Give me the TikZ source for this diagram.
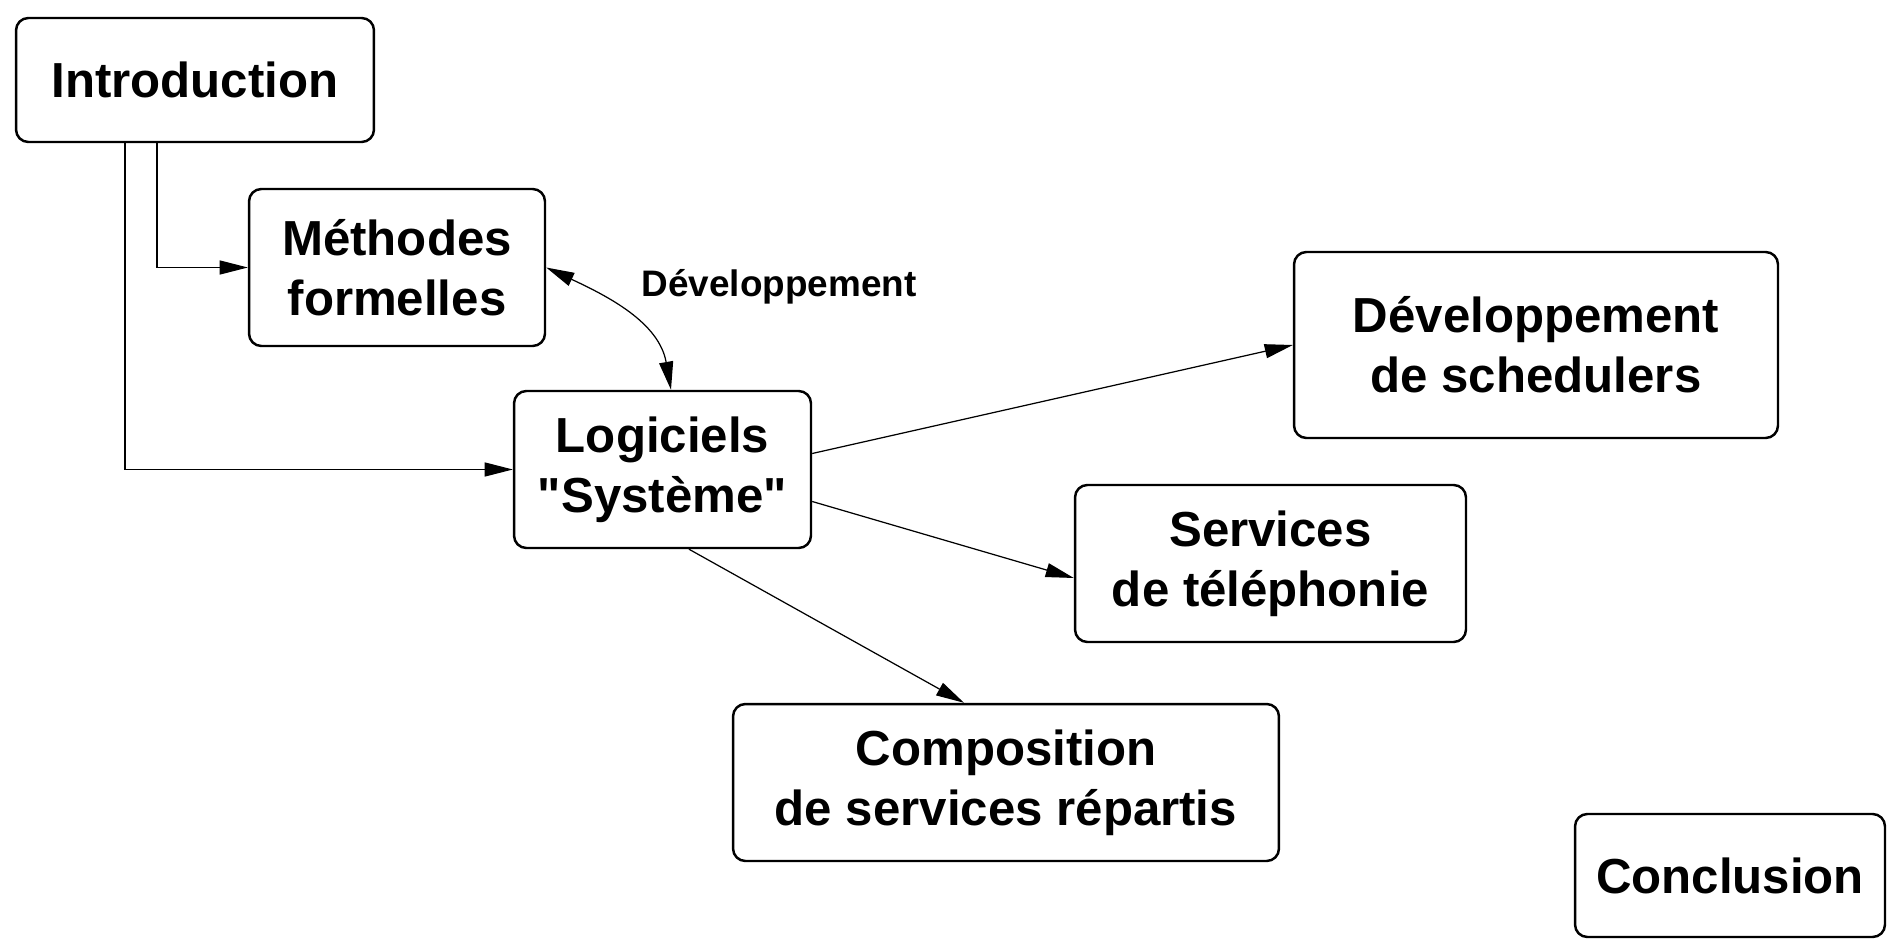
\documentclass[tikz,border=0pt]{standalone}
\usepackage{fontspec}
\setmainfont{Liberation Sans}
\usetikzlibrary{arrows.meta}

\begin{document}
\begin{tikzpicture}[x=0.02cm, y=-0.02cm, >={Triangle[length=16pt,width=8pt]}]
        \tikzstyle{box}  = [rectangle, draw, rounded corners=7pt, line width=1.4pt, align=center, inner sep=0pt, font=\fontsize{28}{34}\selectfont\bfseries]
        \tikzstyle{link} = [->, line width=0.7pt]
        \useasboundingbox (0,0) rectangle (1888,952);

        % Boxes
        \node[box, minimum width=7.16cm, minimum height=2.48cm] (intro) at (195,80) {Introduction};
        \node[box, minimum width=5.92cm, minimum height=3.14cm] (meth) at (397,267.5) {Méthodes\\ formelles};
        \node[box, minimum width=5.94cm, minimum height=3.14cm] (log) at (662.5,469.5) {Logiciels\\ \textquotedbl Système\textquotedbl};
        \node[box, minimum width=9.68cm, minimum height=3.72cm] (sched) at (1536,345) {Développement\\ de schedulers};
        \node[box, minimum width=7.82cm, minimum height=3.14cm] (serv) at (1270.5,563.5) {Services\\ de téléphonie};
        \node[box, minimum width=10.92cm, minimum height=3.14cm] (comp) at (1006,782.5) {Composition\\ de services répartis};
        \node[box, minimum width=6.2cm, minimum height=2.46cm] (concl) at (1730,875.5) {Conclusion};
        \node[font=\fontsize{21}{25}\selectfont\bfseries] (devlabel) at (779,287) {Développement};

        % Arrows
        \draw[link] ([xshift=-0.76cm]intro.south) |- (meth.west);
        \draw[link] ([xshift=-1.4cm]intro.south) |- (log.west);
        \draw[<->, line width=0.7pt] (meth.east) to[out=-25, in=100] ([xshift=0.17cm]log.north);
        \draw[link] ([yshift=0.32cm]log.east) -- (sched.west);
        \draw[link] ([yshift=-0.64cm]log.east) -- ([yshift=-0.29cm]serv.west);
        \draw[link] ([xshift=0.53cm]log.south) -- ([xshift=-0.84cm]comp.north);
    \end{tikzpicture}
\end{document}
